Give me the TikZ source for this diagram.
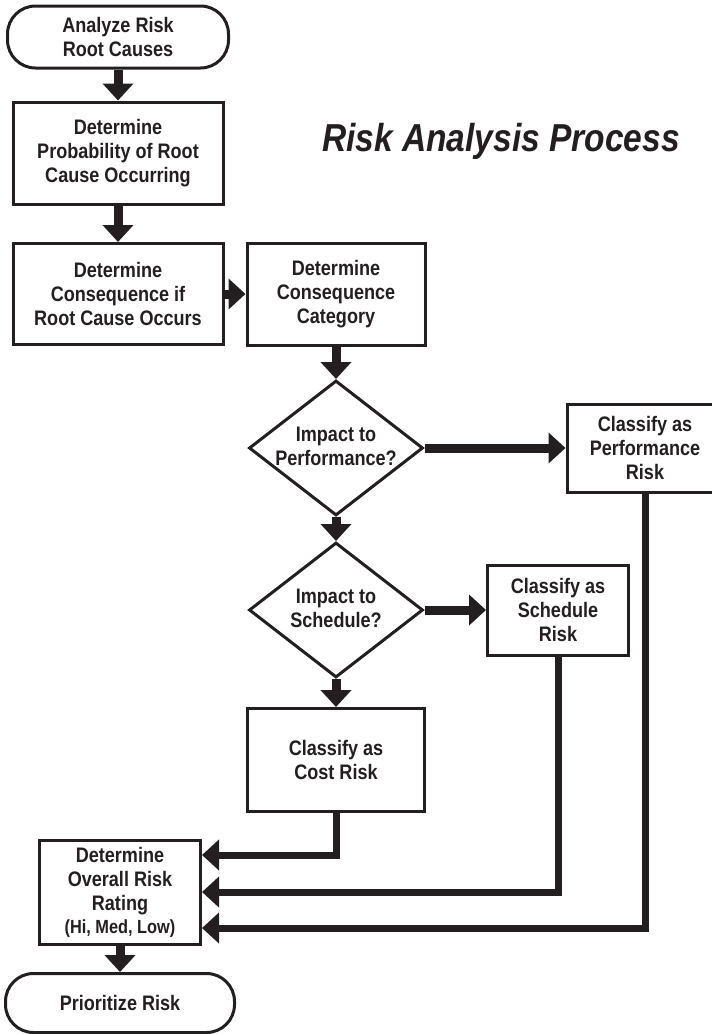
\documentclass[tikz,border=0pt]{standalone}
\usepackage{fontspec}
\setmainfont[FakeStretch=0.86]{Liberation Sans}
\usetikzlibrary{arrows.meta, shapes.geometric}
\definecolor{ink}{RGB}{35,31,32}

\begin{document}
\begin{tikzpicture}[x=1pt, y=-1pt, color=ink, line join=miter,
    box/.style={draw, line width=3pt, align=center, inner sep=0pt, font=\fontsize{21}{24}\selectfont\bfseries},
    term/.style={box, rounded corners=28pt},
    decision/.style={draw, diamond, line width=3pt, inner sep=0pt, minimum width=174pt, minimum height=135pt},
    qtext/.style={align=center, inner sep=0pt, font=\fontsize{21}{24}\selectfont\bfseries},
    arr/.style={line width=9pt, -{Triangle[length=17pt, width=30pt]}},
    feed/.style={line width=7pt, -{Triangle[length=17pt, width=30pt]}}]

\useasboundingbox (0,0) rectangle (712,1034);

\node[term, minimum width=221pt, minimum height=62pt] (start) at (118,37) {Analyze Risk\\Root Causes};
\node[box, minimum width=210pt, minimum height=102pt] (prob) at (118,153) {Determine\\Probability of Root\\Cause Occurring};
\node[box, minimum width=210pt, minimum height=101pt] (cons) at (118,294) {Determine\\Consequence if\\Root Cause Occurs};
\node[box, minimum width=178pt, minimum height=102pt] (cat) at (336,294) {Determine\\Consequence\\Category};

\node[font=\fontsize{39}{42}\selectfont\bfseries\itshape] (title) at (501,141) {Risk Analysis Process};

\node[decision] (perf) at (336,448) {};
\node[qtext] (perfq) at (336,446) {Impact to\\Performance?};
\node[box, minimum width=156pt, minimum height=88pt] (perfrisk) at (645,448) {Classify as\\Performance\\Risk};

\node[decision] (sched) at (336,610) {};
\node[qtext] (schedq) at (336,608) {Impact to\\Schedule?};
\node[box, minimum width=141pt, minimum height=90pt] (schedrisk) at (558,610) {Classify as\\Schedule\\Risk};

\node[box, minimum width=177pt, minimum height=103pt] (cost) at (336,760) {Classify as\\Cost Risk};

\node[box, minimum width=161pt, minimum height=104pt] (ovr) at (120,892) {Determine\\Overall Risk\\Rating\\[-1pt]{\fontsize{19}{21}\selectfont(Hi, Med, Low)}};
\node[term, minimum width=229pt, minimum height=59pt] (prio) at (120,1003) {Prioritize Risk};

\draw[arr] (start) -- (prob);
\draw[arr] (prob) -- (cons);
\draw[arr] (cons) -- (cat);
\draw[arr] (cat) -- (perf);
\draw[arr] (perf.east) -- (perfrisk);
\draw[arr] (perf) -- (sched);
\draw[arr] (sched.east) -- (schedrisk);
\draw[arr] (sched) -- (cost);
\draw[arr] (ovr) -- (prio);

\draw[feed] (cost.south) |- ([yshift=37pt]ovr.east);
\draw[feed] (schedrisk.south) |- (ovr.east);
\draw[feed] (perfrisk.south) |- ([yshift=-36pt]ovr.east);
\end{tikzpicture}
\end{document}
